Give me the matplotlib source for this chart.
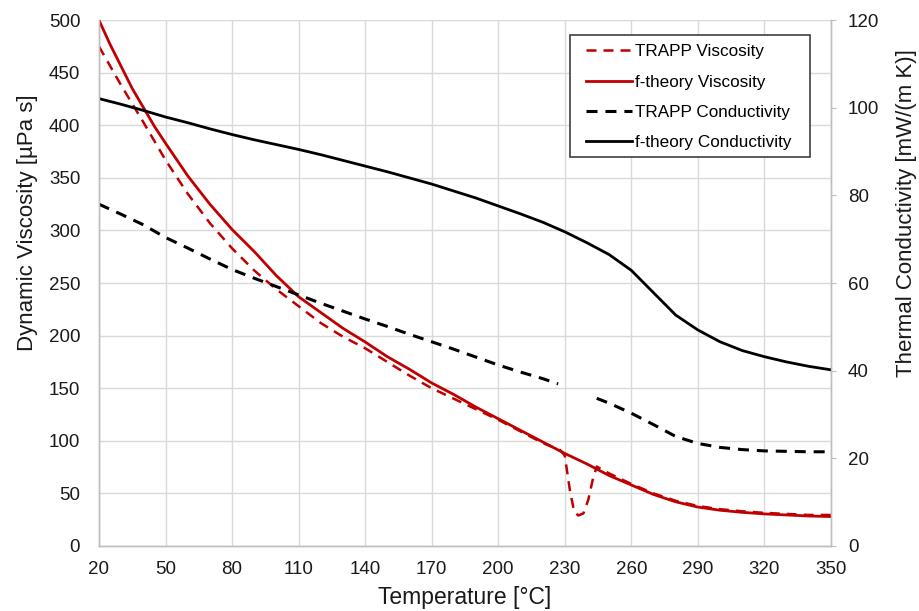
import numpy as np
import matplotlib
matplotlib.use("Agg")
import matplotlib.pyplot as plt
from matplotlib.patches import Rectangle
from matplotlib.transforms import IdentityTransform

plt.rcParams['font.family'] = ['Liberation Sans', 'DejaVu Sans']

# ---- data ----
ftheory_visc_T = [20, 25, 30, 35, 40, 45, 50, 60, 70, 80, 90, 100, 110, 120, 130,
                  140, 150, 160, 170, 180, 190, 200, 210, 220, 230, 240, 250, 260,
                  270, 280, 290, 300, 310, 320, 330, 340, 350]
ftheory_visc = [500, 477, 456, 435, 417, 399, 383, 352, 325, 301, 280, 257, 237,
                222, 207, 194, 180, 168, 155, 144, 132, 121, 110, 99, 88, 78, 67,
                58, 49, 42, 37, 34, 32, 30.5, 29.5, 28.5, 28]

trapp_visc_T = [20, 30, 40, 50, 60, 70, 80, 90, 100, 110, 120, 130, 140, 150, 160,
                170, 180, 190, 200, 210, 220, 228, 230, 232.3, 234.2, 236.1, 238.4,
                240.6, 242.6, 244.4, 250, 260, 270, 280, 290, 300, 310, 320, 330,
                340, 350]
trapp_visc = [475, 438, 403, 367, 335, 307, 283, 262, 244, 228, 212, 199, 188, 175,
              162, 150, 140, 130, 120, 109, 98, 91, 86, 53, 33, 29, 31, 44, 63, 75.5,
              69, 59, 50, 43, 38, 35, 33, 31.5, 30.5, 29.5, 29.5]

ftheory_cond_T = [20, 30, 40, 50, 60, 70, 80, 90, 100, 110, 120, 130, 140, 150, 160,
                  170, 180, 190, 200, 210, 220, 230, 240, 250, 260, 270, 280, 290,
                  300, 310, 320, 330, 340, 350]
ftheory_cond = [102.1, 100.8, 99.4, 97.9, 96.6, 95.2, 93.9, 92.7, 91.6, 90.5, 89.3,
                88.0, 86.7, 85.4, 84.0, 82.6, 81.0, 79.4, 77.6, 75.8, 73.9, 71.7,
                69.2, 66.5, 62.9, 57.8, 52.7, 49.3, 46.6, 44.6, 43.2, 42.0, 41.0, 40.2]

trapp_cond_T = [20, 30, 40, 50, 60, 70, 80, 90, 100, 110, 120, 130, 140, 150, 160,
                170, 180, 190, 200, 210, 220, 227, 236, 244.4, 250, 260, 270, 280,
                290, 300, 310, 320, 330, 340, 350]
trapp_cond = [78, 75.7, 73.3, 70.4, 68.0, 65.5, 63.1, 61.1, 59.2, 57.3, 55.4, 53.6,
              51.8, 50.1, 48.3, 46.6, 44.9, 43.1, 41.3, 39.7, 38.2, 37.0, np.nan,
              33.7, 32.6, 30.3, 27.7, 25.0, 23.4, 22.5, 22.0, 21.7, 21.6, 21.5, 21.5]

xticks = [20, 50, 80, 110, 140, 170, 200, 230, 260, 290, 320, 350]
yticks_left = [0, 50, 100, 150, 200, 250, 300, 350, 400, 450, 500]
yticks_right = [0, 20, 40, 60, 80, 100, 120]

RED = '#C00000'
GRID = '#D9D9D9'
TXT = '#1a1a1a'

fig = plt.figure(figsize=(9.19, 6.11), dpi=100)
ax = fig.add_axes([0.1077, 0.1064, 0.7965, 0.8606])
ax2 = ax.twinx()

l1, = ax.plot(trapp_visc_T, trapp_visc, color=RED, lw=1.8, linestyle=(0, (4, 2.8)),
              label='TRAPP Viscosity', zorder=3)
l2, = ax.plot(ftheory_visc_T, ftheory_visc, color=RED, lw=2.0,
              label='f-theory Viscosity', zorder=3)
l3, = ax2.plot(trapp_cond_T, trapp_cond, color='black', lw=2.2,
               linestyle=(0, (3.6, 2.6)), label='TRAPP Conductivity')
l4, = ax2.plot(ftheory_cond_T, ftheory_cond, color='black', lw=2.0,
               label='f-theory Conductivity')

ax.set_xlim(20, 350)
ax.set_ylim(0, 500)
ax2.set_ylim(0, 120)
ax.set_xticks(xticks)
ax.set_yticks(yticks_left)
ax2.set_yticks(yticks_right)

ax.grid(True, color=GRID, lw=1.0)
ax.set_axisbelow(True)

for a in (ax, ax2):
    a.spines['top'].set_visible(False)
    for side in ('left', 'right', 'bottom'):
        a.spines[side].set_color('#BFBFBF')
        a.spines[side].set_linewidth(1.0)

ax.tick_params(axis='y', length=0, labelsize=13.5, pad=13.5, colors=TXT)
ax.tick_params(axis='x', length=0, labelsize=13.5, pad=11, colors=TXT)
ax2.tick_params(axis='y', length=3.6, color='#BFBFBF', labelsize=13.5, pad=8.6,
                labelcolor=TXT)

ax.set_xlabel('Temperature [°C]', fontsize=16.5, color=TXT, va='center')
ax.set_ylabel('Dynamic Viscosity [µPa s]', fontsize=16, color=TXT, va='center')
ax2.set_ylabel('Thermal Conductivity [mW/(m K)]', fontsize=16, color=TXT, va='center')
ax.xaxis.set_label_coords(0.5, -0.098)
ax.yaxis.set_label_coords(-0.0977, 0.614)
ax2.yaxis.set_label_coords(1.1038, 0.633)

leg = ax2.legend(handles=[l1, l2, l3, l4], loc='upper right',
                 bbox_to_anchor=(0.9467, 0.9544), fontsize=12.3, frameon=False,
                 handlelength=2.7, handletextpad=0.2, labelspacing=0.9,
                 borderpad=0, borderaxespad=0)
leg.set_zorder(6)

fig.canvas.draw()
bb = leg.get_window_extent()
frame = Rectangle((bb.x0 - 16, bb.y0 - 6.5), bb.width + 34, bb.height + 15.5,
                  transform=IdentityTransform(), facecolor='white',
                  edgecolor='#404040', lw=1.2, zorder=5.5, clip_on=False)
ax2.add_artist(frame)

fig.savefig('out.png', dpi=100)
